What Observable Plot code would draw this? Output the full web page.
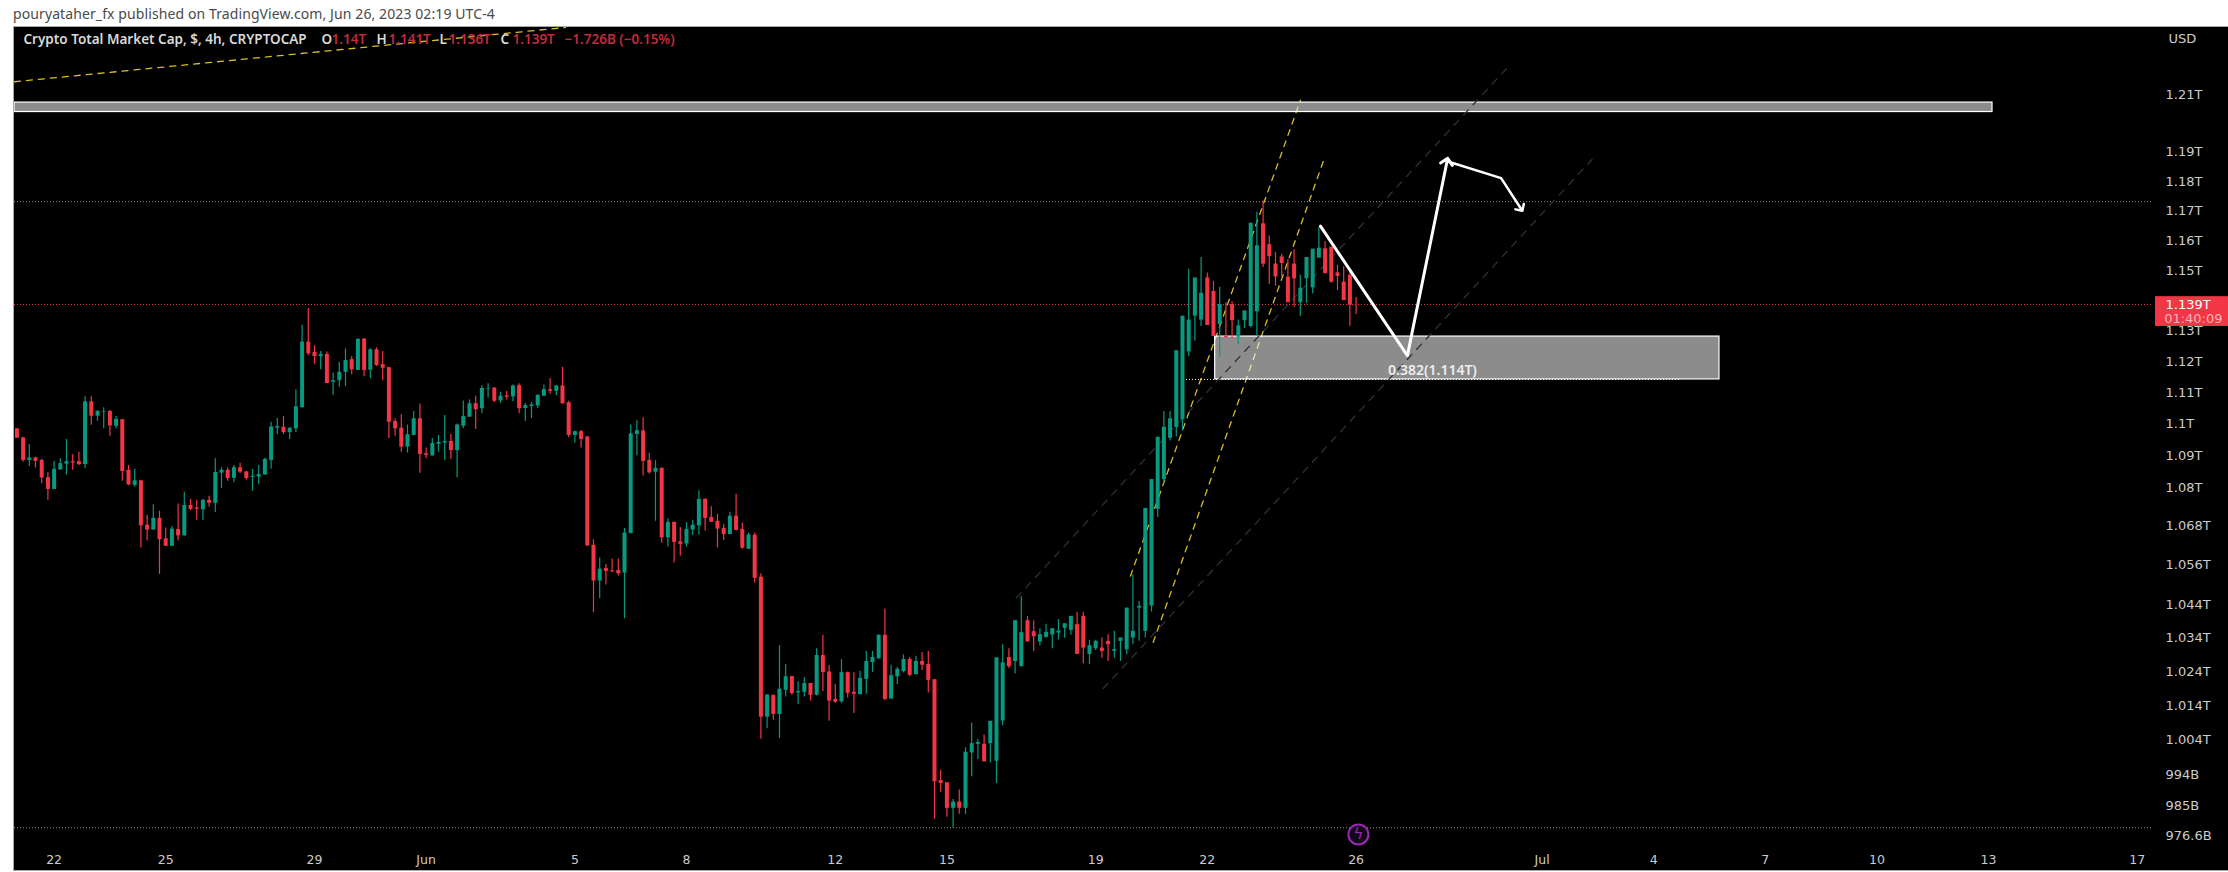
<!DOCTYPE html>
<html><head><meta charset="utf-8">
<script src="https://cdn.jsdelivr.net/npm/d3@7"></script>
<script src="https://cdn.jsdelivr.net/npm/@observablehq/plot@0.6"></script>
<style>
html,body{margin:0;padding:0;background:#fff;width:2228px;height:872px;overflow:hidden}
#head{position:absolute;left:13px;top:5px;font:14px "Noto Sans",sans-serif;letter-spacing:.1px;color:#4a4a4a;white-space:nowrap;line-height:18px}
#chart{position:absolute;left:13px;top:26px;border:1px solid #a8a8a8;border-right:0}
#chart svg{display:block;max-width:none}
</style></head><body>
<div id="head">pouryataher_fx published on TradingView.com, Jun 26, 2023 02:19 UTC-4</div>
<div id="chart"></div>
<script>
// 4h candles, values in $ billions, first bar 2023-05-21 00:00 UTC
const firstBar = "2023-05-21T00:00Z";
const open = [1098.5,1095.6,1088.5,1089.3,1088.5,1083.1,1079.4,1085.5,1087.3,1088.1,1088.1,1087.2,1107.1,1102.5,1103.8,1104,1099.3,1101.4,1085.4,1080.7,1082.1,1068.3,1066.8,1070.4,1064.1,1061.8,1067,1065,1074.4,1073.6,1073.1,1076,1075.1,1084.5,1085.4,1082.9,1086.2,1084.9,1083.2,1083.3,1083.9,1088.5,1098.7,1099,1097.3,1098.5,
1105.2,1126.4,1123,1121.7,1122.4,1113.4,1113.9,1116.6,1120.7,1117.2,1127.4,1117.3,1123.9,1119.1,1118.1,1100.8,1098.7,1092.7,1096.4,1101.7,1090.6,1089.9,1093.6,1094,1094.5,1091.6,1099.3,1102.2,1106.5,1104.9,1111.1,1111.5,1107.4,1109,1108.7,1112.3,1105,1105.6,1105.8,1108.9,1111,1110.5,1112.2,1106.8,1096.4,1097.6,
1095.9,1062.1,1051.2,1055,1054.3,1054.4,1053.6,1065.7,1096.7,1097.8,1088.5,1084.8,1086,1064.4,1069.2,1063.2,1062.5,1066.8,1068.1,1076.3,1070.7,1069.5,1067.3,1065.4,1071.1,1067,1060.9,1065.2,
1052.3,1010.6,1017,1011.4,1018.5,1022.5,1017.7,1017.9,1020.5,1017,1028.8,1023.9,1015.8,1015.1,1023.7,1017.9,1017.2,1021.7,1026.7,1027.8,1034.8,1015.9,1022.5,1024,1027.6,1023.1,1027,1026.1,1021.6,992.2,991.6,984.3,986.1,984.3,1000.2,1002.7,1002.7,1002.9,997.8,1009.5,1028.2,1027,1025.5,1039.2,1035.9,1032.8,1034.2,1034.9,1035.5,1036.9,1036.3,1038,1040.5,1029.1,1030.8,
1031,1033,1030,1033,1030.5,1034,1043,1036,1043.6,1073.2,1082.5,1095.5,1098.9,1101.4,1123.2,1134.9,1133.6,1147.5,1143,1132.1,1128.3,1138.7,1128,1133.4,1131.5,1136.3,1165.6,1158.6,1152.1,1154.5,1147.8,1152.1,1139.3,1147.2,1144.2,1154.1,1157.2,1157.7,1149.2,1146.1,1148.3,1140.2];
const close = [1095.5,1088.5,1089.3,1088.2,1083,1079.4,1085.7,1087.5,1088.1,1087.7,1087.2,1107.1,1102.5,1104.1,1104,1099.4,1101.5,1085,1080.8,1082.1,1068.1,1066.8,1070.4,1063.8,1061.8,1067.1,1065,1074.4,1073.2,1073.2,1076,1075.1,1084.7,1085.4,1082.8,1086.2,1084.8,1082.8,1083.5,1084.1,1088.8,1099.1,1099.2,1097.3,1098.7,1105.5,
1126.4,1122.6,1121.7,1122.4,1113,1113.9,1116.6,1120.4,1117.4,1127.3,1117.2,1123.9,1118.8,1117.9,1100.6,1098.5,1092.7,1096.6,1101.7,1090.4,1090.1,1093.8,1094.2,1094.5,1091.6,1099.7,1102.4,1106.5,1104.6,1111.4,1111.3,1107.3,1108.9,1108.6,1112.2,1104.9,1105.9,1106.1,1109.2,1111,1110.5,1112.2,1106.5,1096.4,1097.6,1095.1,
1061.9,1051.2,1054.8,1054.1,1054,1053.4,1065.9,1096.9,1097.9,1088.2,1084.6,1086,1064.4,1069.2,1063,1062.4,1067,1068.3,1076.3,1070.4,1069.2,1067.1,1065.4,1071.1,1066.7,1061.2,1065.3,1052,
1010.6,1017.1,1011.4,1018.8,1022.5,1017.5,1018.1,1020.5,1017,1028.8,1023.7,1015.3,1015,1023.7,1017.6,1017.3,1022,1027,1028.2,1034.8,1015.8,1022.8,1024.7,1027.6,1022.9,1027,1025.9,1021.4,991.9,991.4,984.3,986.1,984.3,1000.4,1002.9,1003.2,997.6,1009.4,1028.1,1026.6,1025.5,1039.2,1035.6,1032.8,1034.4,1035,1035.7,1036.8,1036.1,1038.3,1040.5,1029.1,1031,1031.7,
1033,1030,1032,1030.5,1034,1043,1036,1043.5,1073.5,1082.5,1095.8,1099,1101.7,1123.6,1134.9,1133.6,1147.5,1142.4,1131.8,1128.2,1138.7,1127.8,1133.4,1131.7,1136.6,1165.8,1158.2,1152.1,1154.6,1147.8,1152.3,1139.3,1147.2,1144.1,1154.3,1157.1,1157.4,1148.9,1146.1,1148,1140,1138.5];
const high = [1098.5,1095.8,1093.5,1089.5,1088.9,1084.6,1088.2,1089,1095.1,1090.3,1091.1,1108.7,1108.7,1104.2,1105.2,1104.3,1102.4,1101.5,1086.9,1085.7,1082.3,1071.4,1074.6,1072.6,1067.4,1068,1074.9,1078.5,1076.3,1076,1076.3,1077.3,1089,1086.2,1086.2,1086.9,1087.6,1085,1085.7,1086.9,1089.3,1100.6,1101.8,1102.4,1098.8,1111,
1131.9,1137.4,1125.2,1123.3,1123.2,1116.4,1119.8,1124.2,1121.7,1127.5,1127.6,1124.2,1124.5,1123.3,1118.2,1101.7,1103,1099.7,1104,1106.4,1092.4,1095.4,1096.4,1102.7,1096.7,1100,1107.4,1107.7,1108.9,1112.3,1112.9,1111.6,1110.2,1110.4,1112.5,1112.9,1106.6,1106.9,1109.4,1112.5,1114.6,1112.3,1118.2,1107.3,1097.7,1098,
1096.1,1063.8,1058.2,1056.2,1057.9,1057.9,1067.3,1099.7,1101.1,1102,1090.8,1088.4,1086.2,1070.3,1069.2,1067.6,1069.1,1069.8,1079,1076.5,1074,1071.7,1068.6,1072.3,1077.9,1068.9,1065.9,1065.9,
1053.4,1017.2,1017.1,1031.7,1026.1,1022.6,1021,1022.2,1020.5,1030.8,1034.8,1025.8,1020.2,1027.6,1023.9,1023.7,1024.1,1030,1030,1035,1042.7,1025.9,1025.2,1029,1028.2,1028.5,1029.7,1030,1021.6,995.2,991.6,986.8,989.5,1001.7,1008.9,1004.1,1005.4,1006,1010.8,1032,1030.8,1027.6,1046.5,1040.5,1039.2,1036.8,1038.1,1036,1039.5,1037.3,1038.8,1041.7,1041.7,1033.3,1033.3,
1034,1035,1036,1034,1039,1053,1045,1045,1076,1084.7,1104,1104,1106.2,1127.6,1150.4,1139.7,1154.3,1149.1,1146.3,1144.4,1139.3,1139.6,1133.6,1135.6,1138,1169.5,1173.3,1161.5,1155.9,1155.4,1153.6,1156.9,1148.5,1147.2,1154.9,1164.4,1159.6,1157.9,1151.7,1151.2,1150.4,1141];
const low = [1095.5,1087.9,1086.6,1086.1,1081.2,1076,1079.4,1085.5,1083.9,1085.4,1086.9,1086,1099.6,1100.9,1098.5,1096.1,1098.5,1082,1080.6,1080.2,1061.3,1063.5,1066.8,1053.2,1061.8,1061.8,1063.5,1065,1072.8,1069.8,1069.8,1073.9,1072.2,1079.7,1082,1081.5,1084.4,1082.3,1078.8,1080.9,1083.9,1085.7,1096.7,1096.7,1095.1,1097.3,
1105.2,1122,1119.2,1117.4,1113,1109.2,1111.8,1112,1115.8,1117.2,1115.2,1114.5,1118.5,1113.9,1095.4,1096.1,1091.1,1090.8,1096.4,1084.5,1089,1089.9,1091.1,1088.5,1088.8,1083,1098.5,1102.2,1098.3,1103.3,1108.3,1106.8,1106.6,1107.7,1107.2,1103.3,1100.8,1101.7,1105,1108.9,1109.5,1109.1,1106.3,1095.7,1094,1092.4,
1061.9,1041.6,1045.9,1050,1053.8,1052.7,1039.8,1065.7,1090,1083.6,1084.2,1069.5,1062.7,1061.6,1056.7,1058.8,1061.6,1065.1,1065.3,1066.5,1069.2,1061.3,1063.6,1065.4,1066.5,1060.9,1060.9,1050.6,
1004.2,1007.2,1009.7,1004.4,1016.5,1017,1014.3,1016.5,1015.3,1016.8,1018.1,1009.4,1014.6,1014.6,1016.2,1011.7,1017.2,1017.3,1023.8,1027.7,1015.4,1015.9,1020.2,1023.6,1022.5,1023.1,1024.3,1017.7,981.2,988.9,981.8,978.8,982.6,982.5,993.3,998.3,1000.9,997.4,991.4,1008.1,1024.9,1023.3,1025.3,1035.5,1030,1031.7,1034,1030.8,1033.4,1033.9,1034.8,1037.5,1026.3,1026.1,1030.3,
1028,1027,1028,1027,1029,1032,1033,1034,1041.8,1070.7,1081.3,1094.6,1096,1097.8,1121.7,1126.7,1131.5,1139.3,1129.1,1121.5,1128.3,1127.3,1125.5,1130.8,1131.1,1128.2,1151,1145.3,1144.8,1147.8,1147.8,1137.8,1134.8,1139.1,1142.2,1154.1,1153.6,1145.7,1143.3,1142.9,1131.6,1135.4];

const priceTicks = [1210,1190,1180,1170,1160,1150,1130,1120,1110,1100,1090,1080,1068,1056,1044,1034,1024,1014,1004,994,985,976.6];
const priceLabels = ["1.21T","1.19T","1.18T","1.17T","1.16T","1.15T","1.13T","1.12T","1.11T","1.1T","1.09T","1.08T","1.068T","1.056T","1.044T","1.034T","1.024T","1.014T","1.004T","994B","985B","976.6B"];
const dateTicks = ["2023-05-22","2023-05-25","2023-05-29","2023-06-01","2023-06-05","2023-06-08","2023-06-12","2023-06-15","2023-06-19","2023-06-22","2023-06-26","2023-07-01","2023-07-04","2023-07-07","2023-07-10","2023-07-13","2023-07-17"];
const dateLabels = ["22","25","29","Jun","5","8","12","15","19","22","26","Jul","4","7","10","13","17"];

const viewStart = "2023-05-20T22:27Z", viewEnd = "2023-07-17T10:28Z";
const lastPrice = 1138.7, swingHigh = 1173.1, swingLow = 978.8, fibLevel = 1114.3;
const fibStart = "2023-06-21T10:35Z", fibEnd = "2023-07-04T17:56Z";

const topZoneX = ["2023-05-20T22:27Z","2023-07-13T02:36Z"], topZoneY = [1203.9,1207.2];
const midZoneX = ["2023-06-22T05:05Z","2023-07-05T18:27Z"], midZoneY = [1114.3,1128.2];

const yellowLines = [
  {x:["2023-05-20T22:27Z","2023-06-04T17:56Z"], y:[1214.5,1233.7]},
  {x:["2023-06-20T13:06Z","2023-06-25T03:56Z"], y:[1032.7,1188.5]},
  {x:["2023-06-19T22:26Z","2023-06-24T12:07Z"], y:[1052.7,1208.0]}
];
const channelLines = [
  {x:["2023-06-16T20:54Z","2023-06-30T01:02Z"], y:[1046.1,1219.1]},
  {x:["2023-06-19T04:51Z","2023-07-02T08:15Z"], y:[1019.0,1187.5]}
];
const downLegX = ["2023-06-25T01:02Z","2023-06-27T09:06Z","2023-06-28T10:42Z"];
const downLegY = [1164.8,1122.0,1186.9];
const backLegX = ["2023-06-28T10:42Z","2023-06-29T21:33Z","2023-06-30T10:24Z"];
const backLegY = [1186.9,1181.1,1170.7];

const UP = "#089981", DOWN = "#f23645";
const d = s => new Date(s);
const bars = d3.range(open.length);
const barTime = bars.map(i => d3.utcHour.offset(d(firstBar), 4 * i));
const hline = (v, stroke, x1 = viewStart, x2 = viewEnd, opacity = 1) =>
  Plot.ruleY([v], {x1: () => d(x1), x2: () => d(x2), stroke, strokeDasharray: "1,2", strokeOpacity: opacity});
const seg = (s, opts) => Plot.line(d3.range(s.x.length), {x: i => d(s.x[i]), y: i => s.y[i], ...opts});
const zone = (xs, ys, o) => Plot.rect([0], {x1: () => d(xs[0]), x2: () => d(xs[1]), y1: () => ys[0], y2: () => ys[1], ...o});
const legend = (text, dx, fill, weight = 600) =>
  Plot.text([text], {text: t => t, frameAnchor: "top-left", dx, dy: 7, fill, fontSize: 13.5, fontWeight: weight, fontFamily: "Noto Sans", textAnchor: "start"});

const chart = Plot.plot({
  width: 2214, height: 843,
  marginLeft: 0, marginRight: 75, marginTop: 0, marginBottom: 27,
  style: {background: "#000", fontFamily: "DejaVu Sans"},
  x: {type: "utc", domain: [d(viewStart), d(viewEnd)]},
  y: {type: "log", domain: [974.34, 1233.7]},
  color: {type: "identity"},
  marks: [
    Plot.axisY({anchor: "right", ticks: priceTicks, tickFormat: v => priceLabels[priceTicks.indexOf(v)], tickSize: 0, tickPadding: 12, fontSize: 13, fill: "#cccccc", label: null}),
    Plot.axisX({anchor: "bottom", ticks: dateTicks.map(d), tickFormat: t => dateLabels[dateTicks.indexOf(d3.utcFormat("%Y-%m-%d")(t))], tickSize: 0, tickPadding: 12, fontSize: 12.5, fill: "#cccccc", label: null}),
    Plot.text(["USD"], {text: t => t, frameAnchor: "top-left", dx: 2154, dy: 6, fill: "#cccccc", fontSize: 13, textAnchor: "start"}),
    hline(swingHigh, "#8a8a8a"),
    hline(swingLow, "#8a8a8a"),
    hline(lastPrice, DOWN),
    ...yellowLines.map(s => seg(s, {stroke: "#d8bd2a", strokeWidth: 1.3, strokeDasharray: "6,6"})),
    zone(topZoneX, topZoneY, {fill: "#fff", fillOpacity: 0.55, stroke: "#fff", strokeWidth: 1.2}),
    zone(midZoneX, midZoneY, {fill: "#fff", fillOpacity: 0.55, stroke: "#fff", strokeWidth: 1.2}),
    hline(fibLevel, "#fff", fibStart, fibEnd),
    ...channelLines.map(s => seg(s, {stroke: "#2f3037", strokeWidth: 1.3, strokeDasharray: "7,7"})),
    Plot.ruleX(bars, {x: i => barTime[i], y1: i => low[i], y2: i => high[i], stroke: i => close[i] >= open[i] ? UP : DOWN, strokeWidth: 1.2}),
    Plot.ruleX(bars, {x: i => barTime[i], y1: i => open[i], y2: i => close[i], stroke: i => close[i] >= open[i] ? UP : DOWN, strokeWidth: 4}),
    seg({x: downLegX, y: downLegY}, {stroke: "#fff", strokeWidth: 3, markerEnd: "arrow"}),
    seg({x: backLegX, y: backLegY}, {stroke: "#fff", strokeWidth: 2.5, markerEnd: "arrow"}),
    Plot.text(["0.382(1.114T)"], {text: t => t, x: () => d("2023-06-28T01:18Z"), y: () => 1117.3, fill: "#eeeeee", fontSize: 14, fontWeight: 600, fontFamily: "Noto Sans"}),
    Plot.rect([0], {x1: () => d("2023-07-17T11:46Z"), x2: () => d("2023-07-19T10:51Z"), y1: () => 1131.5, y2: () => 1141.3, fill: DOWN}),
    Plot.text(["1.139T"], {text: t => t, x: () => d("2023-07-17T18:14Z"), y: () => 1138.7, fill: "#fff", fontSize: 13, textAnchor: "start"}),
    Plot.text(["01:40:09"], {text: t => t, x: () => d("2023-07-17T17:20Z"), y: () => 1134.1, fill: "#ffb3ba", fontSize: 13, textAnchor: "start"}),
    Plot.dot([0], {x: () => d("2023-06-26T01:30Z"), y: () => 976.9, r: 10, stroke: "#9c27b0", strokeWidth: 2, fill: "#100818"}),
    Plot.text(["ϟ"], {text: t => t, x: () => d("2023-06-26T01:30Z"), y: () => 976.9, fill: "#9c27b0", fontSize: 15}),
    legend("Crypto Total Market Cap, $, 4h, CRYPTOCAP", 9, "#d8d8d8"),
    legend("O", 307, "#d8d8d8"), legend("1.14T", 317, "#c22a3c"),
    legend("H", 362, "#d8d8d8"), legend("1.141T", 374, "#c22a3c"),
    legend("L", 425, "#d8d8d8"), legend("1.136T", 434, "#c22a3c"),
    legend("C", 486, "#d8d8d8"), legend("1.139T", 498, "#c22a3c"),
    legend("−1.726B (−0.15%)", 550, "#c22a3c")
  ]
});
document.getElementById("chart").append(chart);
</script></body></html>
